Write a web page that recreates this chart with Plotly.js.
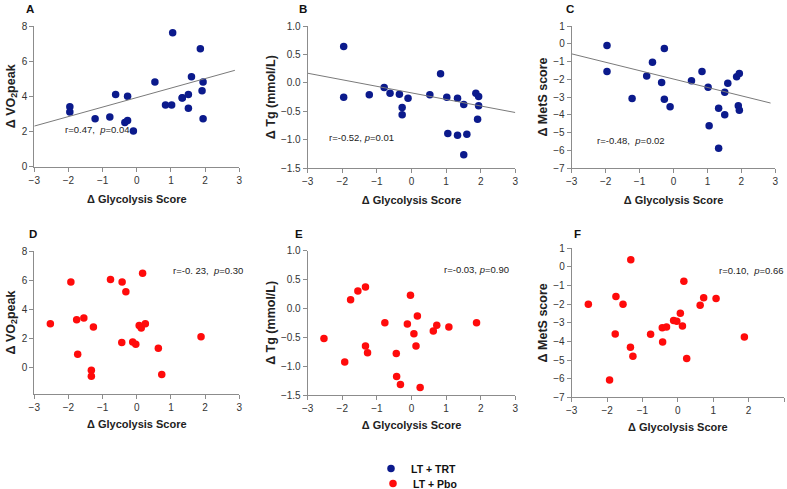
<!DOCTYPE html>
<html>
<head>
<meta charset="utf-8">
<script src="https://cdn.plot.ly/plotly-3.0.1.min.js"></script>
<style>html,body{margin:0;padding:0;background:#fff;}#chart{width:787px;height:489px;}</style>
</head>
<body>
<div id="chart"></div>
<script>
// ---- Data ----
// LT + TRT group (panels A, B, C share the glycolysis score change)
const trtGlycolysis = [-1.96,-1.96,-1.22,-0.79,-0.62,-0.35,-0.27,-0.27,-0.10,0.53,0.84,1.02,1.05,1.33,1.33,1.51,1.51,1.60,1.86,1.91,1.94,1.94];
const trtVO2peak   = [3.41,3.11,2.73,2.82,4.11,2.52,2.62,4.00,2.03,4.82,3.51,3.51,7.62,3.90,3.92,4.11,3.32,5.12,6.71,4.32,4.82,2.73];
const trtTg        = [0.64,-0.25,-0.21,-0.08,-0.18,-0.20,-0.43,-0.56,-0.27,-0.21,0.16,-0.25,-0.89,-0.27,-0.92,-0.38,-1.26,-0.90,-0.18,-0.64,-0.24,-0.40];
const trtMetS      = [-0.10,-1.57,-3.08,-1.81,-1.04,-2.18,-0.27,-3.12,-3.55,-2.09,-1.57,-2.45,-4.62,-3.64,-5.89,-2.73,-4.00,-2.22,-1.86,-3.49,-1.68,-3.74];

// LT + Pbo group
const pboGlycolysisD = [-2.53,-1.93,-1.76,-1.73,-1.55,-1.33,-1.33,-1.27,-0.77,-0.44,-0.43,-0.32,-0.12,-0.03,0.07,0.13,0.17,0.25,0.63,0.73,1.88];
const pboVO2peak     = [2.99,5.87,3.27,0.89,3.38,-0.21,-0.62,2.77,6.03,1.69,5.87,5.19,1.74,1.58,2.86,2.70,6.47,2.99,1.30,-0.50,2.10];
const pboGlycolysisE = [-2.53,-1.93,-1.76,-1.55,-1.33,-1.33,-1.27,-0.77,-0.44,-0.43,-0.32,-0.12,-0.03,0.07,0.13,0.17,0.25,0.63,0.73,1.08,1.88];
const pboTg          = [-0.52,-0.93,0.15,0.30,0.37,-0.65,-0.77,-0.25,-0.78,-1.18,-1.32,-0.27,0.23,-0.44,-0.65,-0.13,-1.37,-0.39,-0.29,-0.32,-0.25];
const pboGlycolysisF = [-2.53,-1.93,-1.75,-1.77,-1.55,-1.33,-1.34,-1.27,-0.77,-0.44,-0.43,-0.32,-0.12,-0.03,0.07,0.13,0.17,0.25,0.63,0.73,1.08,1.88];
const pboMetS        = [-2.01,-6.07,-1.59,-3.60,-2.01,0.39,-4.31,-4.80,-3.62,-3.26,-4.03,-3.22,-2.88,-2.92,-2.49,-3.17,-0.77,-4.92,-2.06,-1.65,-1.70,-3.76];

// Trend lines (end points)
const trendAx = [-3, 2.87], trendAy = [2.31, 5.48];
const trendBx = [-3, 3.00], trendBy = [0.17, -0.52];
const trendCx = [-3, 2.86], trendCy = [-0.57, -3.34];

// Labels
const panelLetters = ['A','B','C','D','E','F'];
const statR = ['r=0.47,', 'r=-0.52,', 'r=-0.48,', 'r=-0. 23,', 'r=-0.03,', 'r=0.10,'];
const statP = ['0.04', '0.01', '0.02', '0.30', '0.90', '0.66'];
const xTitle = 'Δ Glycolysis Score';
const yTitles = ['Δ VO<sub>2</sub>peak', 'Δ Tg (mmol/L)', 'Δ MetS score', 'Δ VO<sub>2</sub>peak', 'Δ Tg (mmol/L)', 'Δ MetS score'];
const groupNames = ['LT + TRT', 'LT + Pbo'];

// ---- Styling ----
const W = 787, H = 489;
const px = v => v / W, py = v => 1 - v / H;
const FONT = 'Liberation Sans, Arial, sans-serif';
const NAVY = '#0b1a8c', RED = '#ff0b0b', LINE = '#7a7a7a', AXIS = '#8c8c8c';

const mk = (c) => ({color: c, size: 7.5, line: {width: 0}});

const traces = [
  {x: trtGlycolysis, y: trtVO2peak, xaxis: 'x', yaxis: 'y', mode: 'markers', marker: mk(NAVY), name: groupNames[0], showlegend: true, legend: 'legend', cliponaxis: false},
  {x: trendAx, y: trendAy, xaxis: 'x', yaxis: 'y', mode: 'lines', line: {color: LINE, width: 1}, showlegend: false},
  {x: trtGlycolysis, y: trtTg, xaxis: 'x2', yaxis: 'y2', mode: 'markers', marker: mk(NAVY), showlegend: false, cliponaxis: false},
  {x: trendBx, y: trendBy, xaxis: 'x2', yaxis: 'y2', mode: 'lines', line: {color: LINE, width: 1}, showlegend: false},
  {x: trtGlycolysis, y: trtMetS, xaxis: 'x3', yaxis: 'y3', mode: 'markers', marker: mk(NAVY), showlegend: false, cliponaxis: false},
  {x: trendCx, y: trendCy, xaxis: 'x3', yaxis: 'y3', mode: 'lines', line: {color: LINE, width: 1}, showlegend: false},
  {x: pboGlycolysisD, y: pboVO2peak, xaxis: 'x4', yaxis: 'y4', mode: 'markers', marker: mk(RED), name: groupNames[1], showlegend: true, legend: 'legend2', cliponaxis: false},
  {x: pboGlycolysisE, y: pboTg, xaxis: 'x5', yaxis: 'y5', mode: 'markers', marker: mk(RED), showlegend: false, cliponaxis: false},
  {x: pboGlycolysisF, y: pboMetS, xaxis: 'x6', yaxis: 'y6', mode: 'markers', marker: mk(RED), showlegend: false, cliponaxis: false}
];

// panel geometry in pixels: [left, right, top, bottom]
const boxes = [
  [34.3, 239.3, 26, 166.7],
  [307.7, 515.3, 26, 168.3],
  [571.7, 775.3, 26, 168],
  [34.3, 239.3, 251, 394],
  [307.7, 515.3, 250.7, 395],
  [571.7, 784, 248.3, 397.3]
];
const yRanges = [[0,8],[-1.5,1.0],[-7,1],[-1.85,8],[-1.5,1.0],[-7,1]];
const yTicks = [[0,2,4,6,8],[-1.5,-1,-0.5,0,0.5,1],[-7,-6,-5,-4,-3,-2,-1,0,1],[0,2,4,6,8],[-1.5,-1,-0.5,0,0.5,1],[-7,-6,-5,-4,-3,-2,-1,0,1]];
const yFmt = ['d', '.1f', 'd', 'd', '.1f', 'd'];
const yStand = [3, 2, 2, 3, 2, 2];
const xStand = [10, 10, 10, 8, 8, 8];

const legFont = {family: FONT, size: 10.5, color: '#111', weight: 'bold'};
const layout = {
  width: W, height: H,
  margin: {l: 0, r: 0, t: 0, b: 0, autoexpand: false},
  paper_bgcolor: '#fff', plot_bgcolor: '#fff',
  font: {family: FONT, size: 10, color: '#333'},
  showlegend: true,
  legend:  {x: px(371), y: py(454), xanchor: 'left', yanchor: 'top', bgcolor: 'rgba(0,0,0,0)', font: legFont, itemwidth: 30},
  legend2: {x: px(373), y: py(469), xanchor: 'left', yanchor: 'top', bgcolor: 'rgba(0,0,0,0)', font: legFont, itemwidth: 30},
  annotations: []
};

boxes.forEach((b, i) => {
  const n = i === 0 ? '' : String(i + 1);
  layout['xaxis' + n] = {
    domain: [px(b[0]), px(b[1])], anchor: 'y' + n, range: [-3, 3], tickvals: [-3,-2,-1,0,1,2,3],
    showline: true, linecolor: AXIS, linewidth: 1, ticks: 'outside', ticklen: 4, tickcolor: AXIS,
    showgrid: false, zeroline: false, tickfont: {family: FONT, size: 10, color: '#333'},
    title: {text: xTitle, font: {family: FONT, size: 11, color: '#222', weight: 'bold'}, standoff: xStand[i]},
    automargin: false, fixedrange: true
  };
  layout['yaxis' + n] = {
    domain: [py(b[3]), py(b[2])], anchor: 'x' + n, range: yRanges[i], tickvals: yTicks[i], tickformat: yFmt[i],
    showline: true, linecolor: AXIS, linewidth: 1, ticks: 'outside', ticklen: 4, tickcolor: AXIS,
    showgrid: false, zeroline: false, tickfont: {family: FONT, size: 10, color: '#333'},
    title: {text: yTitles[i], font: {family: FONT, size: 12.5, color: '#222', weight: 'bold'}, standoff: yStand[i]},
    automargin: false, fixedrange: true
  };
});

// panel letters
const letterPos = [[30, 9], [303, 9], [570, 9], [33, 234], [299, 234], [577, 234]];
letterPos.forEach((p, i) => layout.annotations.push({
  xref: 'paper', yref: 'paper', x: px(p[0]), y: py(p[1]), xanchor: 'center', yanchor: 'middle',
  text: '<b>' + panelLetters[i] + '</b>', showarrow: false, font: {family: FONT, size: 11.5, color: '#111'}
}));

// statistics
const statPos = [[63, 129, 'left'], [327, 138, 'left'], [595, 140, 'left'], [245, 270, 'right'], [511, 269, 'right'], [785, 270, 'right']];
const statSep = ['\u00a0\u00a0', '\u00a0', '\u00a0\u00a0', '\u00a0\u00a0', '\u00a0', '\u00a0\u00a0'];
statPos.forEach((p, i) => layout.annotations.push({
  xref: 'paper', yref: 'paper', x: px(p[0]), y: py(p[1]), xanchor: p[2], yanchor: 'middle',
  text: statR[i] + statSep[i] + '<i>p</i>=' + statP[i], showarrow: false, font: {family: FONT, size: 9.5, color: '#222'}
}));

Plotly.newPlot('chart', traces, layout, {displayModeBar: false, staticPlot: true});
</script>
</body>
</html>
